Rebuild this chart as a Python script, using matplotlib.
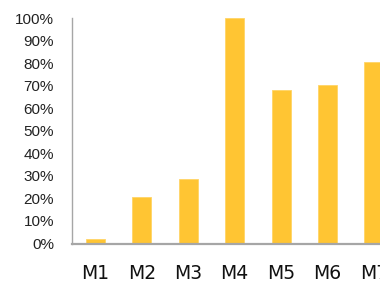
import matplotlib.pyplot as plt
from matplotlib.ticker import PercentFormatter

months = ["M1", "M2", "M3", "M4", "M5", "M6", "M7"]
values = [1.9, 20.5, 28.7, 100.0, 67.9, 70.3, 80.4]
y_ticks = list(range(0, 101, 10))

fig = plt.figure(figsize=(3.8, 2.82), dpi=100)
# axes run past the right edge, as in the reference (M7 is cut off)
ax = fig.add_axes([72 / 380, 1 - 243.5 / 282, 325 / 380, 225.5 / 282])

x = list(range(len(months)))
ax.bar(x, values, width=0.41, color="#FFC533", edgecolor="#FFD466", linewidth=0.6)

ax.set_xlim(-0.507, 6.5)
ax.set_ylim(0, 100)
ax.set_yticks(y_ticks)
ax.yaxis.set_major_formatter(PercentFormatter(decimals=0))
ax.set_xticks(x)
ax.set_xticklabels(months, fontsize=13.5, family="DejaVu Sans", color="#111111")

ax.tick_params(axis="y", length=0, pad=13, labelsize=11, labelcolor="#222222")
ax.tick_params(axis="x", length=0, pad=15)
for lab in ax.get_yticklabels():
    lab.set_family("Liberation Sans")

ax.spines["top"].set_visible(False)
ax.spines["right"].set_visible(False)
ax.spines["left"].set_color("#A6A6A6")
ax.spines["left"].set_linewidth(1.0)
ax.spines["bottom"].set_color("#A6A6A6")
ax.spines["bottom"].set_linewidth(1.6)

fig.savefig("out.png", dpi=100)
